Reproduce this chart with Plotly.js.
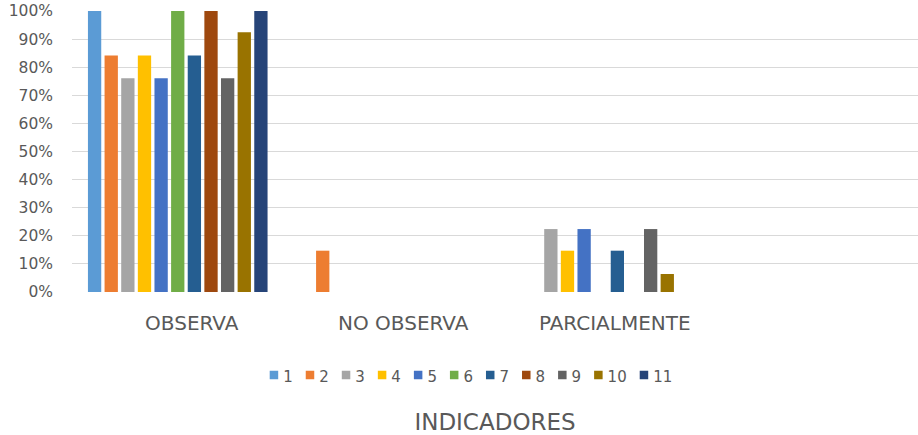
<!DOCTYPE html>
<html>
<head>
<meta charset="utf-8">
<script src="https://cdn.plot.ly/plotly-3.0.1.min.js"></script>
<style>html,body{margin:0;padding:0;background:#fff;}#chart{width:918px;height:435px;}</style>
</head>
<body>
<div id="chart"></div>
<script>
var categories = ["OBSERVA", "NO OBSERVA", "PARCIALMENTE"];
var seriesNames = ["1", "2", "3", "4", "5", "6", "7", "8", "9", "10", "11"];
var observa      = [100, 84.2, 76.1, 84.2, 76.1, 100, 84.2, 100, 76.1, 92.4, 100];
var noObserva    = [0, 14.7, 0, 0, 0, 0, 0, 0, 0, 0, 0];
var parcialmente = [0, 0, 22.4, 14.7, 22.4, 0, 14.7, 0, 22.4, 6.4, 0];
var colors = ["#5B9BD5", "#ED7D31", "#A5A5A5", "#FFC000", "#4472C4", "#70AD47",
              "#255E91", "#9E480E", "#636363", "#997300", "#264478"];
var yTicks = [0, 10, 20, 30, 40, 50, 60, 70, 80, 90, 100];

var FONT = "DejaVu Sans, sans-serif";
var traces = seriesNames.map(function (name, i) {
  return {
    type: "bar",
    name: name,
    x: categories,
    y: [observa[i], noObserva[i], parcialmente[i]],
    marker: {color: colors[i]},
    hoverinfo: "x+y+name"
  };
});

var layout = {
  width: 918, height: 435,
  margin: {l: 72, r: 0, t: 11, b: 143},
  paper_bgcolor: "#ffffff",
  plot_bgcolor: "#ffffff",
  barmode: "group",
  bargap: 0.135,
  bargroupgap: 0.2,
  font: {family: FONT, color: "#595959"},
  showlegend: true,
  legend: {
    orientation: "h",
    x: 0.47, xref: "paper", xanchor: "center",
    y: -0.30, yref: "paper", yanchor: "middle",
    font: {size: 15, color: "#595959", family: FONT},
    itemwidth: 30,
    traceorder: "normal"
  },
  xaxis: {
    type: "category",
    range: [-0.5, 3.5],
    showgrid: false,
    zeroline: false,
    showline: false,
    ticks: "",
    tickangle: 0,
    tickfont: {size: 20, color: "#595959", family: FONT},
    ticklabelstandoff: 17,
    ticklabelshift: 14,
    title: {text: "INDICADORES", font: {size: 23, color: "#595959", family: FONT}, standoff: 80},
    automargin: false,
    fixedrange: true
  },
  yaxis: {
    range: [0, 100],
    tickvals: yTicks,
    ticktext: yTicks.map(function (v) { return v + "%"; }),
    showgrid: true,
    gridcolor: "#D9D9D9",
    gridwidth: 1.3,
    zeroline: false,
    showline: false,
    ticks: "",
    tickfont: {size: 15.5, color: "#595959", family: FONT},
    ticklabelstandoff: 18,
    ticklabeloverflow: "allow",
    automargin: false,
    fixedrange: true
  }
};

// Compact the legend entries (small square swatch right next to its label)
function compactLegend(gd) {
  var items = Array.prototype.slice.call(gd.querySelectorAll(".legend .traces"));
  if (!items.length) return;
  var SYM = 8.5, GAP_TEXT = 5, GAP_ITEM = 13, CENTER = 471;
  var widths = items.map(function (t) {
    var txt = t.querySelector("text.legendtext");
    return SYM + GAP_TEXT + (txt ? txt.getComputedTextLength() : 0) + GAP_ITEM;
  });
  var total = widths.reduce(function (a, b) { return a + b; }, 0) - GAP_ITEM;
  var cursor = CENTER - total / 2;
  items.forEach(function (t, i) {
    var m = t.transform.baseVal.consolidate();
    var localX = m ? m.matrix.e : 0;
    var localY = m ? m.matrix.f : 0;
    var absX = t.getCTM().e;
    var newX = localX + (cursor - absX);
    t.setAttribute("transform", "translate(" + newX + "," + localY + ")");
    var h = SYM / 2;
    t.querySelectorAll(".legendpoints path").forEach(function (p) {
      p.setAttribute("d", "M" + h + "," + h + "H-" + h + "V-" + h + "H" + h + "Z");
      p.setAttribute("transform", "translate(" + h + ",-1)");
    });
    var txt = t.querySelector("text.legendtext");
    if (txt) {
      txt.setAttribute("x", SYM + GAP_TEXT);
      txt.querySelectorAll("tspan").forEach(function (s) {
        if (s.hasAttribute("x")) s.setAttribute("x", SYM + GAP_TEXT);
      });
    }
    var tog = t.querySelector("rect.legendtoggle");
    if (tog) { tog.setAttribute("x", 0); tog.setAttribute("width", widths[i] - GAP_ITEM); }
    cursor += widths[i];
  });
}

Plotly.newPlot("chart", traces, layout, {displayModeBar: false}).then(compactLegend);
</script>
</body>
</html>
